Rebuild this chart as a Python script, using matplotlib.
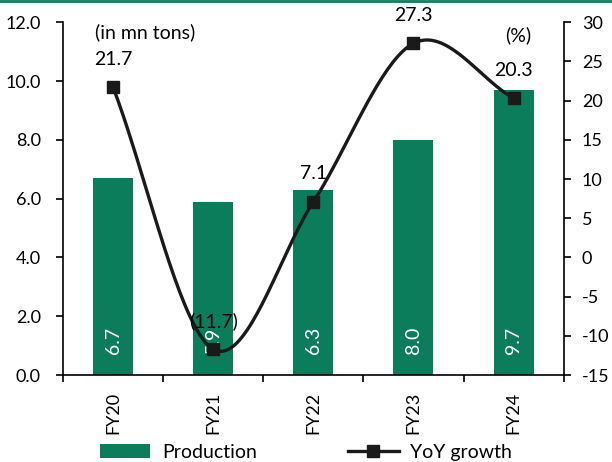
import numpy as np
import matplotlib.pyplot as plt
from matplotlib.lines import Line2D
from matplotlib.patches import Patch

plt.rcParams['font.family'] = ['Lato', 'DejaVu Sans']
plt.rcParams['axes.unicode_minus'] = False

years = ['FY20', 'FY21', 'FY22', 'FY23', 'FY24']
production = [6.7, 5.9, 6.3, 8.0, 9.7]
yoy_growth = [21.7, -11.7, 7.1, 27.3, 20.3]

GREEN = '#0b7d5a'
FS = 14      # annotations and legend
TICK_FS = 13


def smooth_curve(xs, ys, n=40):
    # Catmull-Rom spline through the points, like a spreadsheet "smoothed line"
    xs = np.asarray(xs, float)
    ys = np.asarray(ys, float)
    px = np.concatenate([[2 * xs[0] - xs[1]], xs, [2 * xs[-1] - xs[-2]]])
    py = np.concatenate([[2 * ys[0] - ys[1]], ys, [2 * ys[-1] - ys[-2]]])
    out_x, out_y = [], []
    for i in range(1, len(px) - 2):
        t = np.linspace(0, 1, n)
        for p, out in ((px, out_x), (py, out_y)):
            p0, p1, p2, p3 = p[i - 1], p[i], p[i + 1], p[i + 2]
            out.extend(0.5 * ((2 * p1) + (-p0 + p2) * t
                              + (2 * p0 - 5 * p1 + 4 * p2 - p3) * t ** 2
                              + (-p0 + 3 * p1 - 3 * p2 + p3) * t ** 3))
    return np.array(out_x), np.array(out_y)


fig = plt.figure(figsize=(6.12, 4.62), dpi=100)
ax = fig.add_axes([0.103, 0.188, 0.818, 0.764])
x = np.arange(len(years))

ax.bar(x, production, width=0.4, color=GREEN, zorder=2)
for xi, v in zip(x, production):
    ax.text(xi, 0.72, f'{v:.1f}', rotation=90, ha='center', va='bottom',
            color='white', fontsize=FS, zorder=3)

ax.set_xlim(-0.5, len(years) - 0.5)
ax.set_ylim(0, 12)
ax.set_yticks(np.arange(0, 12.1, 2))
ax.set_yticklabels([f'{v:.1f}' for v in np.arange(0, 12.1, 2)])
ax.set_xticks(np.arange(-0.5, len(years), 1))
ax.set_xticklabels([])
ax.set_xticks(x, minor=True)
ax.set_xticklabels(years, minor=True, rotation=90)
ax.tick_params(axis='x', which='minor', length=0, pad=12, labelsize=TICK_FS)
ax.tick_params(axis='x', which='major', length=5, width=1.2)
ax.tick_params(axis='y', length=5, width=1.2, labelsize=TICK_FS, pad=11)
for side in ['top', 'right']:
    ax.spines[side].set_visible(False)
for side in ['left', 'bottom']:
    ax.spines[side].set_linewidth(1.2)

ax2 = ax.twinx()
ax2.set_ylim(-15, 30)
ax2.set_yticks(np.arange(-15, 31, 5))
ax2.tick_params(axis='y', length=5, width=1.2, labelsize=TICK_FS, pad=8)
for side in ['top', 'left', 'bottom']:
    ax2.spines[side].set_visible(False)
ax2.spines['right'].set_linewidth(1.2)

sx, sy = smooth_curve(x, yoy_growth)
ax2.plot(sx, sy, color='#1a1a1a', linewidth=2.4, zorder=4)
ax2.plot(x, yoy_growth, linestyle='none', marker='s', markersize=8,
         color='#1a1a1a', zorder=5)

for xi, v in zip(x, yoy_growth):
    label = f'({abs(v):.1f})' if v < 0 else f'{v:.1f}'
    ax2.text(xi, v + 3.6, label, ha='center', va='center', fontsize=FS, zorder=6)

ax2.text(-0.18, 28.7, '(in mn tons)', fontsize=FS, ha='left', va='center')
ax2.text(4.05, 28.3, '(%)', fontsize=FS, ha='center', va='center')

# thin green rule along the top edge
fig.add_artist(Line2D([0, 1], [0.997, 0.997], color=GREEN, linewidth=2,
                      transform=fig.transFigure))

handles = [Patch(facecolor=GREEN, label='Production'),
           Line2D([0], [0], color='#1a1a1a', linewidth=2.4, marker='s',
                  markersize=8, label='YoY growth')]
fig.legend(handles=handles, loc='lower center', ncol=2, frameon=False,
           fontsize=FS, bbox_to_anchor=(0.5, -0.035), handlelength=2.6,
           columnspacing=4.7, handletextpad=0.6)

fig.savefig('out.png', dpi=100)
